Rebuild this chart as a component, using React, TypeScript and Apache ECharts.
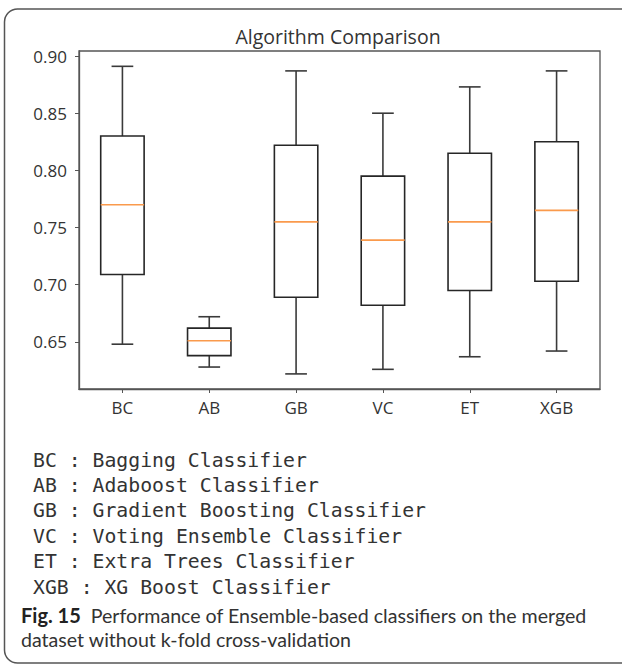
import React, { useEffect, useRef } from "react";
import * as echarts from "echarts";

const categories = ["BC", "AB", "GB", "VC", "ET", "XGB"];
// [low whisker, Q1, median, Q3, high whisker]
const lowWhisker = [0.648, 0.628, 0.622, 0.626, 0.637, 0.642];
const q1Values = [0.709, 0.638, 0.689, 0.682, 0.695, 0.703];
const medians = [0.770, 0.651, 0.755, 0.739, 0.755, 0.765];
const q3Values = [0.830, 0.662, 0.822, 0.795, 0.815, 0.825];
const highWhisker = [0.891, 0.672, 0.887, 0.850, 0.873, 0.887];
const yTickValues = [0.65, 0.7, 0.75, 0.8, 0.85, 0.9];
const legendAbbr = ["BC", "AB", "GB", "VC", "ET", "XGB"];
const legendNames = [
  "Bagging Classifier",
  "Adaboost Classifier",
  "Gradient Boosting Classifier",
  "Voting Ensemble Classifier",
  "Extra Trees Classifier",
  "XG Boost Classifier",
];
const titleText = "Algorithm Comparison";
const captionLabel = "Fig. 15";
const captionLine1 = "Performance of Ensemble-based classifiers on the merged";
const captionLine2 = "dataset without k-fold cross-validation";

export default function App() {
  const ref = useRef<HTMLDivElement>(null);
  useEffect(() => {
    if (!ref.current) return;
    const chart = echarts.init(ref.current, null, { renderer: "svg" });
    const data = categories.map((c, i) => [
      i,
      lowWhisker[i],
      q1Values[i],
      medians[i],
      q3Values[i],
      highWhisker[i],
    ]);
    const boxStroke = "#262626";
    const whiskerStroke = "#3a3a3a";
    const renderItem = (params: any, api: any) => {
      const idx = api.value(0);
      const pLow = api.coord([idx, api.value(1)]);
      const pQ1 = api.coord([idx, api.value(2)]);
      const pMed = api.coord([idx, api.value(3)]);
      const pQ3 = api.coord([idx, api.value(4)]);
      const pHigh = api.coord([idx, api.value(5)]);
      const band = api.size([1, 0])[0];
      const cx = pQ1[0];
      const hw = band * 0.25;
      const cw = band * 0.125;
      const lw = 1.6;
      return {
        type: "group",
        children: [
          {
            type: "line",
            shape: { x1: cx, y1: pQ3[1], x2: cx, y2: pHigh[1] },
            style: { stroke: whiskerStroke, lineWidth: lw },
          },
          {
            type: "line",
            shape: { x1: cx - cw, y1: pHigh[1], x2: cx + cw, y2: pHigh[1] },
            style: { stroke: whiskerStroke, lineWidth: lw },
          },
          {
            type: "line",
            shape: { x1: cx, y1: pQ1[1], x2: cx, y2: pLow[1] },
            style: { stroke: whiskerStroke, lineWidth: lw },
          },
          {
            type: "line",
            shape: { x1: cx - cw, y1: pLow[1], x2: cx + cw, y2: pLow[1] },
            style: { stroke: whiskerStroke, lineWidth: lw },
          },
          {
            type: "rect",
            shape: { x: cx - hw, y: pQ3[1], width: hw * 2, height: pQ1[1] - pQ3[1] },
            style: { stroke: boxStroke, lineWidth: lw, fill: "rgba(255,255,255,0)" },
          },
          {
            type: "line",
            shape: { x1: cx - hw, y1: pMed[1], x2: cx + hw, y2: pMed[1] },
            style: { stroke: "#fa9a4c", lineWidth: lw },
          },
        ],
      };
    };

    const monoFont = "'DejaVu Sans Mono', 'Liberation Mono', monospace";
    const sansFont = "'Open Sans', 'Noto Sans', sans-serif";
    const captionFont = "Lato, 'Open Sans', sans-serif";

    const legendGraphics = legendAbbr.map((a, i) => ({
      type: "text",
      x: 33,
      y: 460 + 25.4 * i,
      style: {
        text: `${a} : ${legendNames[i]}`,
        font: `19.8px ${monoFont}`,
        fill: "#333",
        textVerticalAlign: "middle",
      },
    }));

    chart.setOption({
      animation: false,
      backgroundColor: "#ffffff",
      grid: {
        left: 79,
        top: 51,
        right: 22,
        bottom: 277,
        show: true,
        borderColor: "#555",
        borderWidth: 1.3,
        backgroundColor: "transparent",
      },
      xAxis: {
        type: "category",
        data: categories,
        boundaryGap: true,
        axisLine: { show: true, lineStyle: { color: "#555", width: 1.3 } },
        axisTick: { show: true, alignWithLabel: true, length: 4, lineStyle: { color: "#555" } },
        axisLabel: {
          margin: 10,
          color: "#333",
          fontSize: 17,
          fontFamily: "Open Sans",
        },
        splitLine: { show: false },
      },
      yAxis: {
        type: "value",
        min: 0.6088,
        max: 0.9044,
        axisLine: { show: true, lineStyle: { color: "#555", width: 1.3 } },
        axisTick: {
          show: true,
          length: 4,
          customValues: yTickValues,
          lineStyle: { color: "#555" },
        },
        axisLabel: {
          margin: 12,
          color: "#333",
          fontSize: 17,
          fontFamily: "Open Sans",
          customValues: yTickValues,
          formatter: (v: number) => v.toFixed(2),
        },
        splitLine: { show: false },
      },
      series: [
        {
          type: "custom",
          renderItem,
          data,
          encode: { x: 0, y: [1, 2, 3, 4, 5] },
          clip: false,
        },
      ],
      graphic: [
        {
          type: "rect",
          shape: { x: 4.5, y: 9, width: 640, height: 654, r: 13 },
          style: { stroke: "#555", lineWidth: 1.5, fill: "rgba(0,0,0,0)" },
          silent: true,
        },
        {
          type: "text",
          x: 338,
          y: 36,
          style: {
            text: titleText,
            font: `19.5px ${sansFont}`,
            fill: "#333",
            textAlign: "center",
            textVerticalAlign: "middle",
          },
        },
        ...legendGraphics,
        {
          type: "text",
          x: 21,
          y: 627.5,
          style: {
            text: `{b|${captionLabel}}{n|  ${captionLine1}}\n{n|${captionLine2}}`,
            textVerticalAlign: "middle",
            rich: {
              b: { font: `bold 20px ${captionFont}`, fill: "#222", lineHeight: 24.2 },
              n: { font: `19.6px ${captionFont}`, fill: "#333", lineHeight: 24.2 },
            },
          },
        },
      ],
    });
    return () => chart.dispose();
  }, []);
  return (
    <div
      ref={ref}
      style={{ position: "absolute", left: 0, top: 0, width: 622, height: 666 }}
    />
  );
}
